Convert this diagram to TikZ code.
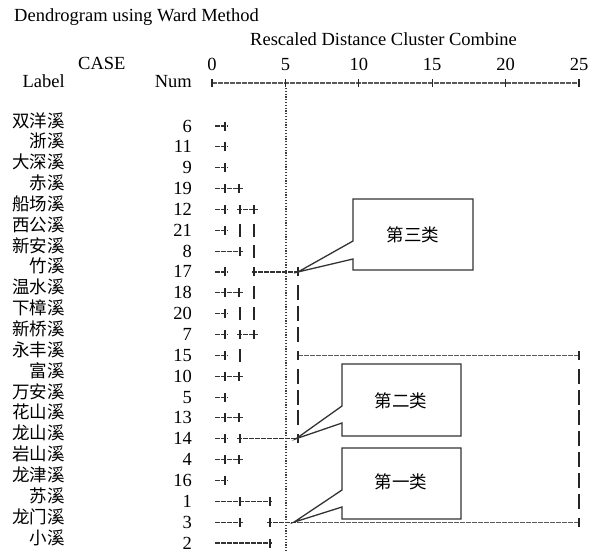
\documentclass[tikz,border=0pt]{standalone}
\usepackage{fontspec}
\setmainfont{Liberation Serif}
\newfontfamily\cjk{Noto Sans CJK SC}
\begin{document}
\begin{tikzpicture}[x=1pt,y=-1pt,
  txt/.style={inner sep=0pt,text=black,font=\fontsize{18.5}{20}\selectfont},
  cjktxt/.style={inner sep=0pt,text=black,font=\cjk\fontsize{17.5}{20}\selectfont},
  hseg/.style={draw=black!80,line width=1.1pt,dash pattern=on 5pt off 1pt},
  axisline/.style={draw=black!65,line width=1.3pt,dash pattern=on 4.5pt off 1.5pt},
  tk/.style={draw=black!85,line width=1.3pt},
  vbar/.style={draw=black!85,line width=1.3pt},
  dotline/.style={draw=black!75,line width=1.3pt,dash pattern=on 1.2pt off 1.6pt},
  callout/.style={draw=black!80,line width=1.3pt,fill=white,line join=miter}
]
\useasboundingbox (0,0) rectangle (592,552);
% headers
\node[txt,anchor=base west] (title) at (14,21) {Dendrogram using Ward Method};
\node[txt,anchor=base west] (rdcc) at (250,45) {Rescaled Distance Cluster Combine};
\node[txt,anchor=base west] (case) at (78,69) {CASE};
\node[txt,anchor=base east] (label) at (65,87) {Label};
\node[txt,anchor=base east] (numh) at (192,87) {Num};
% axis
\foreach \k/\lab in {0/0,1/5,2/10,3/15,4/20,5/25}{
  \coordinate (ax\k) at ({212+73.4*\k},83);
  \node[txt,anchor=base] (axl\k) at ({212+73.4*\k},70) {\lab};
}
\draw[axisline] (ax0) -- (ax5);
\foreach \k in {0,...,5}{\draw[tk] ([yshift=-4pt]ax\k) -- ([yshift=4pt]ax\k);}
% dotted cut line at 5
\coordinate (cutT) at (286,88);
\coordinate (cutB) at (286,552);
\draw[dotline] (cutT) -- (cutB);
% rows
\foreach \num/\name [count=\i from 0] in {6/双洋溪,11/浙溪,9/大深溪,19/赤溪,12/船场溪,21/西公溪,8/新安溪,17/竹溪,18/温水溪,20/下樟溪,7/新桥溪,15/永丰溪,10/富溪,5/万安溪,13/花山溪,14/龙山溪,4/岩山溪,16/龙津溪,1/苏溪,3/龙门溪,2/小溪}{
  \pgfmathsetmacro\ry{126+20.85*\i}
  \node[cjktxt,anchor=base east] (name\i) at (65,\ry+1) {\name};
  \node[txt,anchor=base east] (num\i) at (192,\ry+6) {\num};
  \coordinate (r\i) at (0,\ry);
}
% helpers
\newcommand{\hs}[3]{\draw[hseg] (#1,0 |- r#3) -- (#2,0 |- r#3);}
\newcommand{\tkm}[2]{\draw[tk] ([yshift=-4.5pt]#1,0 |- r#2) -- ([yshift=4.5pt]#1,0 |- r#2);}
\newcommand{\vbm}[2]{\draw[vbar] ([yshift=-6.5pt]#1,0 |- r#2) -- ([yshift=6.5pt]#1,0 |- r#2);}
\newcommand{\vlong}[2]{\draw[vbar] ([yshift=-7.5pt]#1,0 |- r#2) -- ([yshift=7.5pt]#1,0 |- r#2);}
% short -+ rows
\foreach \i in {0,1,2,4,5,7,9,10,11,13,15,17}{\hs{215}{228}{\i}\tkm{225}{\i}}
% -+-+ rows
\foreach \i in {3,8,12,14,16}{\hs{215}{243}{\i}\tkm{225}{\i}\tkm{239}{\i}}
% row 12 and 7: +-+
\foreach \i in {4,10}{\hs{237}{258}{\i}\tkm{240}{\i}\tkm{254}{\i}}
% bars
\vbm{240}{5}\vbm{254}{5}
\hs{215}{243}{6}\tkm{240}{6}\vbm{254}{6}
\vbm{254}{8}
\vbm{240}{9}\vbm{254}{9}
\vbm{240}{11}
% row 17
\hs{252}{298}{7}\tkm{254}{7}
% row 14
\hs{237}{298}{15}\tkm{240}{15}
% rows 1,3,2
\hs{215}{272}{18}\tkm{240}{18}\tkm{270}{18}
\hs{215}{243}{19}\tkm{240}{19}
\hs{267}{298}{19}\tkm{270}{19}
\hs{215}{272}{20}\tkm{270}{20}
% big joins
\coordinate (j2a) at (298,0 |- r11);
\coordinate (j2b) at (579,0 |- r11);
\coordinate (j1a) at (298,0 |- r19);
\coordinate (j1b) at (579,0 |- r19);
\draw[axisline] (j2a) -- (j2b);
\draw[axisline] (j1a) -- (j1b);
\foreach \i in {8,9,10,12,13,14}{\vlong{298}{\i}}
\foreach \i in {12,13,14,15,16,17,18}{\vlong{579}{\i}}
\tkm{298}{11}\tkm{579}{11}\tkm{579}{19}\tkm{298}{7}\tkm{298}{15}
% callouts
\coordinate (t3) at (298,0 |- r7);
\coordinate (t2) at (296,0 |- r15);
\coordinate (t1) at (294,0 |- r19);
\draw[callout] (353,199) -- (473,199) -- (473,270) -- (353,270) -- (353,259) -- (t3) -- (353,241) -- cycle;
\draw[callout] (342,364) -- (461,364) -- (461,436) -- (342,436) -- (342,423) -- (t2) -- (342,406) -- cycle;
\draw[callout] (342,448) -- (461,448) -- (461,519) -- (342,519) -- (342,507) -- (t1) -- (342,490) -- cycle;
\node[cjktxt] (c3) at (413,235) {第三类};
\node[cjktxt] (c2) at (401,401) {第二类};
\node[cjktxt] (c1) at (401,482) {第一类};
\end{tikzpicture}
\end{document}
